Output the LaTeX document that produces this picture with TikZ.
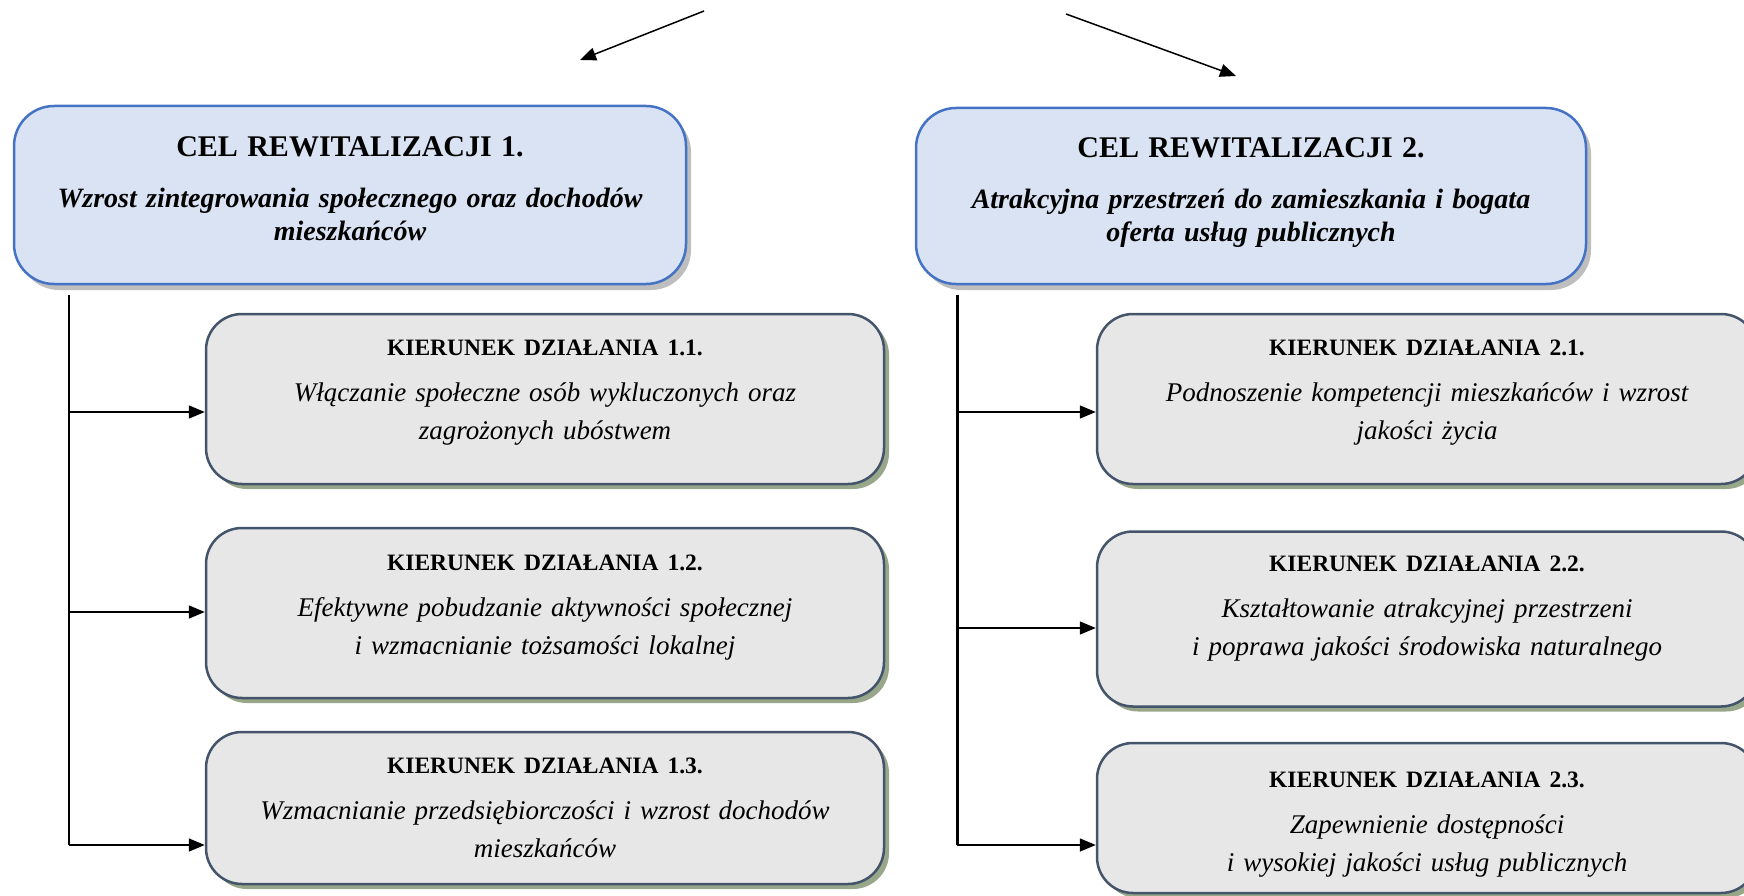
\documentclass[tikz,border=0pt]{standalone}
\usepackage{fontspec}
\setmainfont{Liberation Serif}
\usetikzlibrary{shapes, arrows.meta, positioning, shadows}

\begin{document}
\begin{tikzpicture}[x=1pt, y=-1pt, node distance=200pt and 190pt, on grid]

\definecolor{my_blue}{RGB}{68,114,196}
\definecolor{my_blue_light}{RGB}{218,227,243}
\definecolor{my_slate}{RGB}{68,84,106}
\definecolor{my_gray_light}{RGB}{231,231,231}
\definecolor{my_gray_shadow}{RGB}{190,190,190}
\definecolor{my_olive_shadow}{RGB}{152,166,138}

\tikzstyle{goal} = [rectangle, draw=my_blue, line width=2.5pt, fill=my_blue_light, rounded corners=40pt, minimum width=672pt, minimum height=178pt, text width=640pt, text centered, inner sep=0pt, font=\fontsize{28}{33}\selectfont\bfseries\itshape, drop shadow={shadow xshift=5pt, shadow yshift=-6pt, fill=my_gray_shadow, opacity=1}]
\tikzstyle{action} = [rectangle, draw=my_slate, line width=2.5pt, fill=my_gray_light, rounded corners=36pt, minimum width=678pt, minimum height=170pt, text width=650pt, text centered, inner sep=0pt, font=\fontsize{27}{38}\selectfont\itshape, drop shadow={shadow xshift=5pt, shadow yshift=-5pt, fill=my_olive_shadow, opacity=1}]
\tikzstyle{line} = [draw, line width=1.5pt]
\tikzstyle{arrow} = [line, -{Triangle[length=16pt, width=13pt]}]

\newcommand{\goaltitle}[1]{{\fontsize{30}{33}\selectfont\upshape #1}\\[18pt]}
\newcommand{\actiontitle}[1]{{\fontsize{23.5}{38}\selectfont\bfseries\upshape #1}\\[8pt]}
\newcommand{\lift}[1]{\rule[-#1]{0pt}{#1}}
\newcommand{\sink}[1]{\rule{0pt}{#1}}

	\useasboundingbox (0,0) rectangle (1744,896);
	\clip (0,0) rectangle (1744,896);

	\node [goal] (cel1) at (350,195) {\goaltitle{CEL REWITALIZACJI 1.}Wzrost zintegrowania społecznego oraz dochodów\\mieszkańców\lift{13pt}};

	\node [action, below right=204pt and 195pt of cel1] (k11) {\actiontitle{KIERUNEK DZIAŁANIA 1.1.}Włączanie społeczne osób wykluczonych oraz\\zagrożonych ubóstwem\lift{19pt}};

	\node [action, below=214pt of k11] (k12) {\actiontitle{KIERUNEK DZIAŁANIA 1.2.}Efektywne pobudzanie aktywności społecznej\\i wzmacnianie tożsamości lokalnej\lift{17pt}};

	\node [action, below=195pt of k12, minimum height=152pt] (k13) {\actiontitle{KIERUNEK DZIAŁANIA 1.3.}Wzmacnianie przedsiębiorczości i wzrost dochodów\\mieszkańców};

	\node [goal, minimum width=670pt, minimum height=176pt] (cel2) at (1251,196) {\goaltitle{CEL REWITALIZACJI 2.}Atrakcyjna przestrzeń do zamieszkania i bogata\\oferta usług publicznych\lift{13pt}};

	\node [action, below right=203pt and 176pt of cel2, minimum width=660pt] (k21) {\actiontitle{KIERUNEK DZIAŁANIA 2.1.}Podnoszenie kompetencji mieszkańców i wzrost\\jakości życia\lift{19pt}};

	\node [action, below=220pt of k21, minimum width=660pt, minimum height=175pt] (k22) {\actiontitle{KIERUNEK DZIAŁANIA 2.2.}Kształtowanie atrakcyjnej przestrzeni\\i poprawa jakości środowiska naturalnego\lift{27pt}};

	\node [action, below=199pt of k22, minimum width=660pt, minimum height=150pt] (k23) {\sink{28pt}\actiontitle{KIERUNEK DZIAŁANIA 2.3.}Zapewnienie dostępności\\i wysokiej jakości usług publicznych};

	% strzalki u gory
	\coordinate (s1) at (704,11);
	\coordinate (e1) at (580,60);
	\coordinate (s2) at (1066,14);
	\coordinate (e2) at (1236,76);
	\draw [arrow] (s1) -- (e1);
	\draw [arrow] (s2) -- (e2);

	% pnie
	\coordinate (t1) at (69,295);
	\coordinate (a11) at (69,412);
	\coordinate (a12) at (69,612);
	\coordinate (a13) at (69,845);
	\coordinate (t2) at (957,295);
	\coordinate (a21) at (957,412);
	\coordinate (a22) at (957,628);
	\coordinate (a23) at (957,845);

	\draw [line] (t1) -- (a13);
	\draw [arrow] (a11) -- (a11 -| k11.west);
	\draw [arrow] (a12) -- (a12 -| k12.west);
	\draw [arrow] (a13) -- (a13 -| k13.west);

	\draw [line, line width=3pt] (t2) -- (a23);
	\draw [arrow] (a21) -- (a21 -| k21.west);
	\draw [arrow] (a22) -- (a22 -| k22.west);
	\draw [arrow] (a23) -- (a23 -| k23.west);

\end{tikzpicture}
\end{document}
